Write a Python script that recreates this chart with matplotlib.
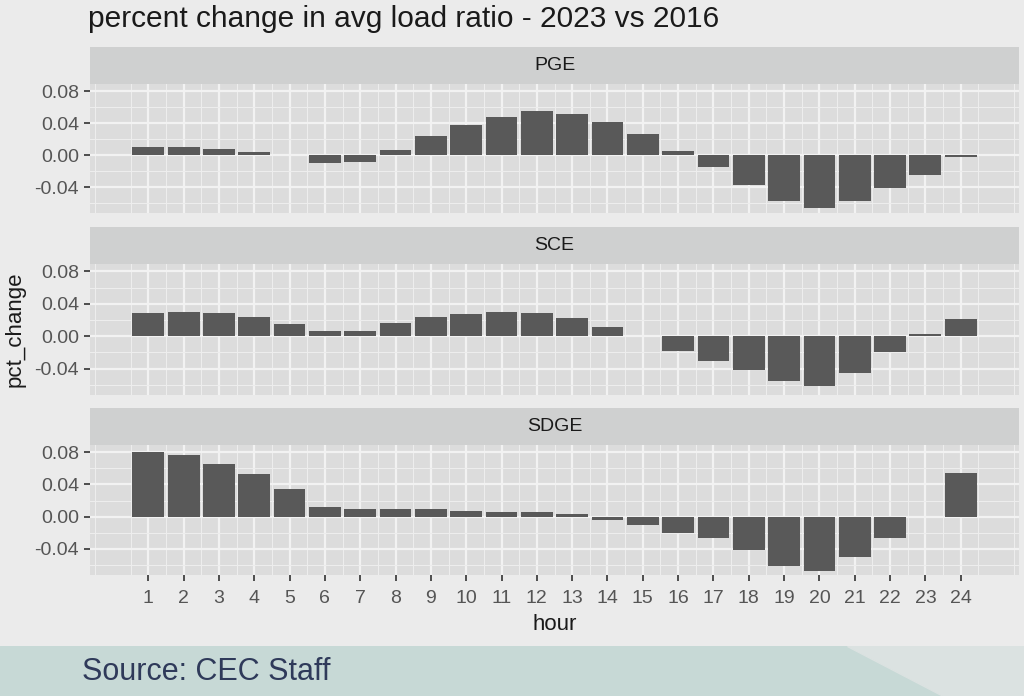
import matplotlib
matplotlib.use("Agg")
import matplotlib.pyplot as plt
from matplotlib.patches import Rectangle, Polygon

plt.rcParams['font.family'] = ['Liberation Sans', 'DejaVu Sans']

# data
hours = list(range(1, 25))
regions = ["PGE", "SCE", "SDGE"]
pge = [0.010, 0.010, 0.007, 0.004, 0.000, -0.010, -0.009, 0.006, 0.024, 0.038,
       0.048, 0.055, 0.052, 0.042, 0.026, 0.005, -0.015, -0.038, -0.058, -0.066,
       -0.057, -0.041, -0.025, -0.003]
sce = [0.028, 0.030, 0.028, 0.024, 0.015, 0.007, 0.007, 0.016, 0.024, 0.027,
       0.030, 0.029, 0.022, 0.011, 0.000, -0.018, -0.030, -0.042, -0.055, -0.062,
       -0.045, -0.020, 0.003, 0.021]
sdge = [0.080, 0.076, 0.065, 0.053, 0.034, 0.0125, 0.009, 0.0095, 0.0095, 0.007,
        0.006, 0.006, 0.003, -0.0045, -0.010, -0.020, -0.027, -0.042, -0.061, -0.067,
        -0.050, -0.026, 0.000, 0.054]
series = [pge, sce, sdge]
y_ticks = [-0.04, 0.00, 0.04, 0.08]

W, H = 1024, 696
fig = plt.figure(figsize=(W / 100, H / 100), dpi=100)
fig.patch.set_facecolor("#ebebeb")


def box(x0, y0, x1, y1):
    # pixel box (top-left origin) -> figure fraction
    return [x0 / W, 1 - y1 / H, (x1 - x0) / W, (y1 - y0) / H]


# panel geometry in pixels: (strip top, panel top, panel bottom)
rows = [(47, 84, 213), (227, 264, 395), (408, 445, 575)]
px0, px1 = 90, 1019

for i, (st, pt, pb) in enumerate(rows):
    sax = fig.add_axes(box(px0, st, px1, pt))
    sax.set_facecolor("#cfd0d0")
    sax.set_xticks([])
    sax.set_yticks([])
    for s in sax.spines.values():
        s.set_visible(False)
    sax.text(0.5, 0.5, regions[i], ha="center", va="center", fontsize=14,
             color="#1a1a1a", transform=sax.transAxes)

    ax = fig.add_axes(box(px0, pt, px1, pb))
    ax.set_facecolor("#dcdcdc")
    ax.set_xlim(-0.65, 25.65)
    ax.set_ylim(-0.0725, 0.089)
    ax.set_xticks(hours)
    ax.set_xticks([h + 0.5 for h in range(-1, 26)], minor=True)
    ax.set_yticks(y_ticks)
    ax.set_yticks([-0.06, -0.02, 0.02, 0.06], minor=True)
    ax.grid(which="major", color="#f2f2f2", linewidth=1.6)
    ax.grid(which="minor", color="#ededed", linewidth=0.8)
    ax.set_axisbelow(True)
    for s in ax.spines.values():
        s.set_visible(False)
    ax.bar(hours, series[i], width=0.9, color="#595959", zorder=3)
    ax.set_yticklabels([f"{v:.2f}" for v in y_ticks])
    ax.tick_params(axis="y", which="major", length=4, width=1.2, color="#333333",
                   labelsize=14, labelcolor="#555555", pad=4)
    ax.tick_params(which="minor", length=0)
    if i < 2:
        ax.tick_params(axis="x", which="major", length=0, labelbottom=False)
    else:
        ax.tick_params(axis="x", which="major", length=4, width=1.2, color="#333333",
                       labelsize=14, labelcolor="#555555", pad=7)
        ax.set_xlabel("hour", fontsize=16, color="#1a1a1a", labelpad=5)
    if i == 1:
        ax.set_ylabel("pct_change", fontsize=16, color="#1a1a1a", labelpad=6)

fig.text(88 / W, 1 - 19 / H, "percent change in avg load ratio - 2023 vs 2016",
         fontsize=21.5, color="#1a1a1a", ha="left", va="center")

# bottom source band
bg = fig.add_axes([0, 0, 1, 50 / H])
bg.set_xlim(0, W)
bg.set_ylim(0, 50)
bg.axis("off")
bg.add_patch(Rectangle((0, 0), W, 50, color="#c7d9d6"))
bg.add_patch(Polygon([(847, 50), (W, 50), (W, 0), (943, 0)], closed=True, color="#dbe2e1"))
bg.text(82, 24, "Source: CEC Staff", fontsize=22, color="#2f3a5a", ha="left", va="center")

fig.savefig("out.png", dpi=100, facecolor=fig.get_facecolor())
